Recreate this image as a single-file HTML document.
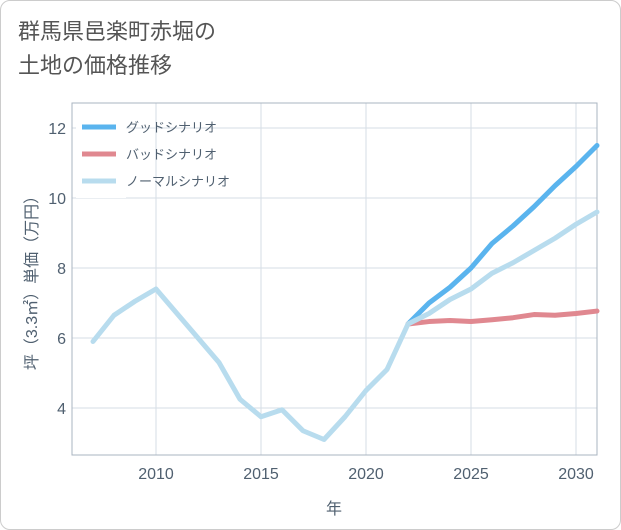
<!DOCTYPE html>
<html><head><meta charset="utf-8">
<style>
body{margin:0;background:#fff;}
#card{position:absolute;left:0;top:0;width:619px;height:528px;border:1px solid #ccc;border-radius:10px;background:#fff;}
#title{position:absolute;left:17px;top:14px;font:22px/34px "Liberation Sans","Noto Sans CJK JP",sans-serif;color:#555;}
svg{position:absolute;left:0;top:0;}
text{font-family:"Liberation Sans","Noto Sans CJK JP",sans-serif;}
</style></head><body>
<div id="card">
<div id="title">群馬県邑楽町赤堀の<br>土地の価格推移</div>
</div>
<svg id="chart" width="621" height="530"></svg>
<script>
const years=[2007,2008,2009,2010,2011,2012,2013,2014,2015,2016,2017,2018,2019,2020,2021,2022,2023,2024,2025,2026,2027,2028,2029,2030,2031];
const normalVals=[5.9,6.65,7.05,7.4,6.7,6.0,5.3,4.25,3.75,3.95,3.35,3.1,3.75,4.5,5.1,6.4,6.7,7.1,7.4,7.85,8.15,8.5,8.85,9.25,9.6];
const goodYears=[2022,2023,2024,2025,2026,2027,2028,2029,2030,2031];
const goodVals=[6.4,7.0,7.45,8.0,8.7,9.2,9.75,10.35,10.9,11.5];
const badVals=[6.4,6.47,6.5,6.47,6.52,6.58,6.67,6.65,6.7,6.77];
const xTicks=[2010,2015,2020,2025,2030];
const yTicks=[4,6,8,10,12];
const seriesNames=["グッドシナリオ","バッドシナリオ","ノーマルシナリオ"];

const L=72,R=597,T=103,B=455;
const X=y=>156+(y-2010)*21;
const Y=v=>338-(v-6)*35;
const svg=document.getElementById('chart');
const NS='http://www.w3.org/2000/svg';
function mk(tag,attrs,parent){const e=document.createElementNS(NS,tag);for(const k in attrs)e.setAttribute(k,attrs[k]);(parent||svg).appendChild(e);return e;}

const grid=mk('g',{});


xTicks.forEach(t=>{
 const l=mk('line',{x1:X(t),x2:X(t),y1:T,y2:B,stroke:'#d5dde6','stroke-width':1},grid);
 
 
 const tx=mk('text',{x:X(t),y:B+24,'text-anchor':'middle','font-size':16,fill:'#506070'});
 tx.textContent=t;
 
 
});
yTicks.forEach(t=>{
 const l=mk('line',{x1:L,x2:R,y1:Y(t),y2:Y(t),stroke:'#d5dde6','stroke-width':1},grid);
 
 
 const tx=mk('text',{x:L-6,y:Y(t)+6,'text-anchor':'end','font-size':16,fill:'#506070'});
 tx.textContent=t;
 
 
});
const frame=mk('rect',{x:L,y:T,width:R-L,height:B-T,fill:'none',stroke:'#aab4c0','stroke-width':1});



const xt=mk('text',{x:334,y:514,'text-anchor':'middle','font-size':16,fill:'#506070'});
xt.textContent='年';


const yt=mk('text',{x:0,y:0,'text-anchor':'middle','font-size':16,fill:'#506070',transform:'translate(37,279) rotate(-90)'});
yt.textContent='坪（3.3㎡）単価（万円）';



function line(xs,vals,color,name){
 const d=vals.map((v,i)=>(i?'L':'M')+X(xs[i])+','+Y(v)).join(' ');
 const p=mk('path',{d:d,fill:'none',stroke:color,'stroke-width':5,'stroke-linejoin':'round','stroke-linecap':'round'});
 
 
}
line(goodYears,goodVals,'#5ab4ee','good-scenario-line');
line(goodYears,badVals,'#e08890','bad-scenario-line');
line(years,normalVals,'#b8dcee','normal-scenario-line');

const colors=['#5ab4ee','#e08890','#b8dcee'];
const lg=mk('g',{});


mk('rect',{x:76,y:110,width:50,height:88,fill:'#fff'},lg);
seriesNames.forEach((n,i)=>{
 const y=127+i*27;
 const l=mk('line',{x1:82,x2:116,y1:y,y2:y,stroke:colors[i],'stroke-width':5},lg);
 
 
 const t=mk('text',{x:126,y:y+5,'font-size':13,fill:'#506070'},lg);
 t.textContent=n;
 
 
});
</script>
</body></html>
